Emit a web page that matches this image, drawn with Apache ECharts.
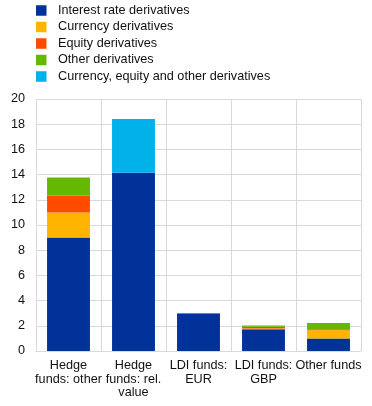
<!DOCTYPE html>
<html><head><meta charset="utf-8">
<script src="https://cdn.jsdelivr.net/npm/echarts@6/dist/echarts.min.js"></script>
<style>html,body{margin:0;padding:0;background:#fff}#c{width:372px;height:406px}</style>
</head><body><div id="c"></div>
<script>
var categories = ["Hedge\nfunds: other", "Hedge\nfunds: rel.\nvalue", "LDI funds:\nEUR", "LDI funds:\nGBP", "Other funds"];
var interestRate = [9.0, 14.15, 2.93, 1.72, 1.0];
var currency = [2.0, 0, 0, 0.06, 0.65];
var equity = [1.35, 0, 0, 0.14, 0.07];
var other = [1.42, 0, 0, 0.1, 0.5];
var currEqOther = [0, 4.27, 0.08, 0, 0];
var yTicks = [0, 20, 2];

var font = "Liberation Sans, Arial, sans-serif";
var fs = 12.67;
function s(name, data, color) {
  return {name: name, type: 'bar', stack: 'a', data: data, barCategoryGap: '34%',
    itemStyle: {color: color}, emphasis: {disabled: true}};
}
var chart = echarts.init(document.getElementById('c'));
chart.setOption({
  animation: false,
  textStyle: {fontFamily: font},
  legend: {orient: 'vertical', left: 36, top: 3.5, padding: 0, itemWidth: 10.5, itemHeight: 10.5, itemGap: 2.5,
    icon: 'rect', textStyle: {fontSize: fs, color: '#111', fontFamily: font, lineHeight: 14, padding: [0, 0, 0, 6.5]},
    data: ['Interest rate derivatives', 'Currency derivatives', 'Equity derivatives', 'Other derivatives', 'Currency, equity and other derivatives']},
  grid: {left: 36, right: 11, top: 99, bottom: 55, containLabel: false},
  xAxis: {type: 'category', data: categories,
    axisLine: {show: true, lineStyle: {color: '#d9d9d9'}}, axisTick: {show: false},
    splitLine: {show: true, lineStyle: {color: '#d9d9d9', width: 1}},
    axisLabel: {interval: 0, color: '#111', fontSize: fs, fontFamily: font, lineHeight: 13.5, margin: 8}},
  yAxis: {type: 'value', min: yTicks[0], max: yTicks[1], interval: yTicks[2],
    axisLine: {show: false}, axisTick: {show: false},
    splitLine: {lineStyle: {color: '#d9d9d9', width: 1}},
    axisLabel: {color: '#111', fontSize: fs, fontFamily: font, margin: 11}},
  series: [
    s('Interest rate derivatives', interestRate, '#003299'),
    s('Currency derivatives', currency, '#FFB400'),
    s('Equity derivatives', equity, '#FF4B00'),
    s('Other derivatives', other, '#65B800'),
    s('Currency, equity and other derivatives', currEqOther, '#00B1EA')
  ]
});
</script></body></html>
